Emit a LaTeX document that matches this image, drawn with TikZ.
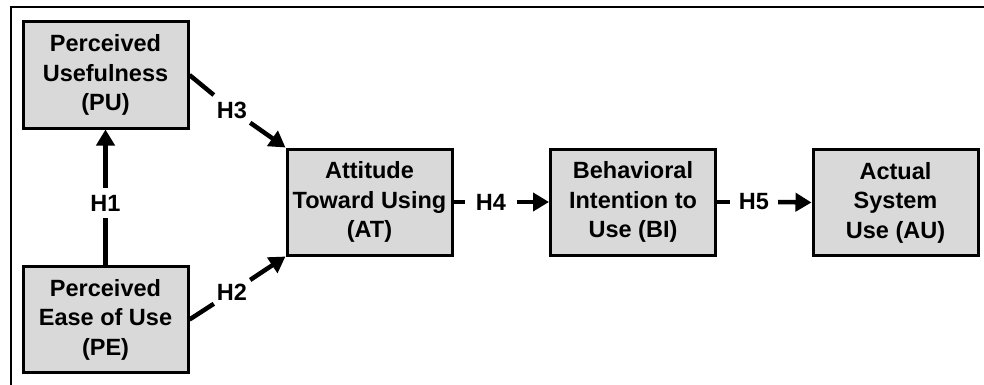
\documentclass[tikz,border=0pt]{standalone}
\usepackage{fontspec}
\setmainfont{Liberation Sans}
\usetikzlibrary{arrows.meta}
\begin{document}
\begin{tikzpicture}[x=1pt,y=-1pt,
  box/.style={draw=black, line width=3pt, fill=boxgray, minimum width=165pt, minimum height=106pt, align=center, inner sep=0pt, font=\bfseries\fontsize{23.5}{29.5}\selectfont},
  lbl/.style={inner sep=0pt, minimum width=40pt, minimum height=26pt, font=\bfseries\fontsize{23.5}{25}\selectfont},
  conn/.style={line width=4.5pt},
  arr/.style={line width=4.5pt, -{Triangle[length=16pt,width=18pt]}}]
\definecolor{boxgray}{HTML}{D9D9D9}
\useasboundingbox (0,0) rectangle (984,385);
\draw[line width=2pt] (11,385) -- (11,7) -- (984,7);
\node[box] (PU) at (105.5,75) {Perceived\\Usefulness\\(PU)};
\node[box] (PE) at (105.5,319.5) {Perceived\\Ease of Use\\(PE)};
\node[box] (AT) at (369.5,202) {Attitude\\Toward Using\\(AT)};
\node[box] (BI) at (633,202) {Behavioral\\Intention to\\Use (BI)};
\node[box] (AU) at (895.5,202.5) {Actual\\System\\Use (AU)};
\node[lbl, minimum height=30pt] (h1) at (105.5,203) {H1};
\node[lbl, minimum width=36pt, minimum height=34pt] (h3) at (232,110) {H3};
\node[lbl, minimum width=36pt, minimum height=34pt] (h2) at (232,292) {H2};
\node[lbl, minimum width=52pt] (h4) at (491,202) {H4};
\node[lbl, minimum width=48pt] (h5) at (754,202) {H5};
\draw[conn] (PE.north) -- (h1.south);
\draw[arr] (h1.north) -- (PU.south);
\draw[conn] (PU.east) -- (h3);
\draw[arr] (h3) -- (AT.north west);
\draw[conn] (PE.east) -- (h2);
\draw[arr] (h2) -- (AT.south west);
\draw[conn] (AT.east) -- (h4.west);
\draw[arr] (h4.east) -- (BI.west);
\draw[conn] (BI.east) -- (h5.west);
\draw[arr] (h5.east) -- (AU.west);
\end{tikzpicture}
\end{document}
